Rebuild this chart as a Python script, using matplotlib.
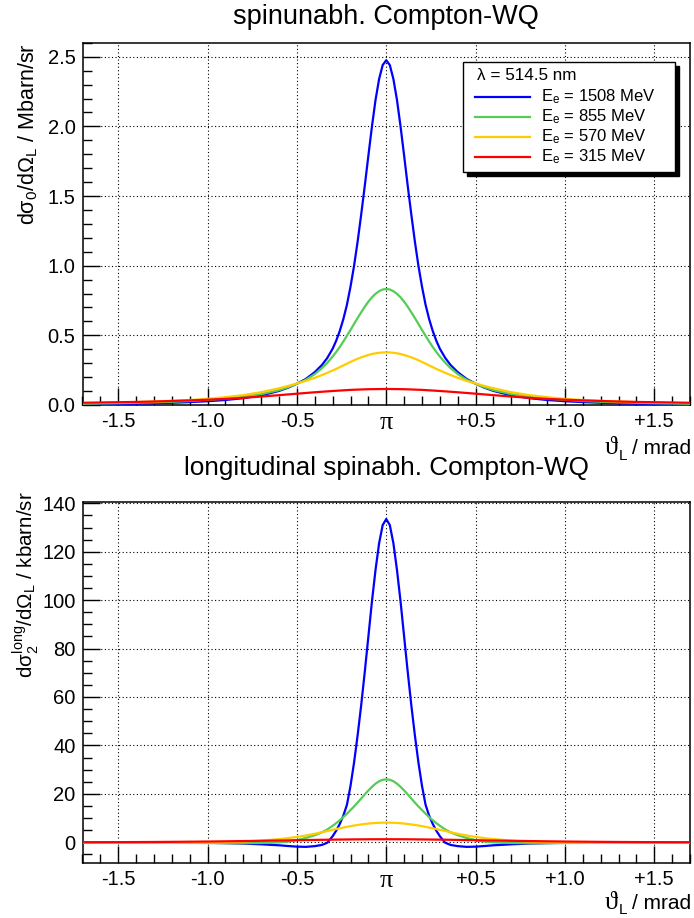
import numpy as np
import matplotlib
matplotlib.use('Agg')
import matplotlib.pyplot as plt
from matplotlib.ticker import FixedLocator, MultipleLocator
from matplotlib.patches import Rectangle
from matplotlib.lines import Line2D

plt.rcParams['font.family'] = ['Liberation Sans', 'DejaVu Sans']
plt.rcParams['mathtext.fontset'] = 'custom'
plt.rcParams['mathtext.rm'] = 'Liberation Sans'
plt.rcParams['mathtext.it'] = 'Liberation Sans'
plt.rcParams['mathtext.bf'] = 'Liberation Sans:bold'
plt.rcParams['mathtext.fallback'] = 'stix'

# ---------------- data (symmetric about pi) -------------
theta_half = [0.00, 0.02, 0.04, 0.06, 0.08, 0.10, 0.12, 0.14, 0.16, 0.18, 0.20,
              0.22, 0.24, 0.26, 0.28, 0.30, 0.33, 0.36, 0.40, 0.45, 0.50, 0.55,
              0.60, 0.70, 0.80, 0.90, 1.00, 1.10, 1.20, 1.30, 1.40, 1.50, 1.60, 1.70]
theta_half_red = [0.0, 0.1, 0.2, 0.3, 0.4, 0.5, 0.6, 0.7, 0.8, 0.9, 1.0,
                  1.1, 1.2, 1.3, 1.4, 1.5, 1.6, 1.7]

# spin-independent cross section, Mbarn/sr
top_1508 = [2.475, 2.44, 2.34, 2.19, 2.00, 1.79, 1.575, 1.37, 1.175, 1.00, 0.85,
            0.72, 0.617, 0.532, 0.462, 0.404, 0.338, 0.287, 0.236, 0.187, 0.153, 0.124,
            0.101, 0.069, 0.049, 0.036, 0.027, 0.021, 0.016, 0.0125, 0.0098, 0.0078, 0.0063, 0.0051]
top_855 = [0.833, 0.829, 0.817, 0.798, 0.773, 0.742, 0.706, 0.666, 0.625, 0.582, 0.539,
           0.497, 0.456, 0.417, 0.381, 0.348, 0.303, 0.265, 0.222, 0.181, 0.152, 0.127,
           0.106, 0.078, 0.059, 0.046, 0.037, 0.029, 0.023, 0.019, 0.016, 0.013, 0.011, 0.0095]
top_570 = [0.378, 0.377, 0.375, 0.371, 0.366, 0.359, 0.351, 0.342, 0.332, 0.321, 0.309,
           0.297, 0.284, 0.272, 0.259, 0.248, 0.231, 0.215, 0.195, 0.173, 0.155, 0.136,
           0.120, 0.092, 0.071, 0.056, 0.044, 0.036, 0.030, 0.025, 0.021, 0.018, 0.015, 0.013]
top_315 = [0.115, 0.1134, 0.1085, 0.1006, 0.0914, 0.0812, 0.0707, 0.0607, 0.0516, 0.0437,
           0.038, 0.033, 0.029, 0.025, 0.022, 0.020, 0.018, 0.016]

# longitudinal spin-dependent cross section, kbarn/sr
bot_1508 = [133.5, 131.0, 123.5, 112.5, 99.5, 85.0, 70.5, 56.8, 44.3, 33.0, 23.3,
            15.5, 11.0, 7.6, 4.8, 2.5, -0.2, -1.1, -1.6, -1.9, -1.8, -1.55,
            -1.25, -0.85, -0.55, -0.36, -0.24, -0.17, -0.12, -0.09, -0.07, -0.05, -0.04, -0.03]
bot_855 = [26.0, 25.8, 25.2, 24.2, 22.9, 21.4, 19.8, 18.1, 16.4, 14.8, 13.3,
           11.8, 10.4, 9.1, 7.9, 6.8, 5.3, 4.1, 2.9, 1.8, 0.9, 0.25,
           -0.05, -0.3, -0.4, -0.38, -0.33, -0.28, -0.23, -0.19, -0.16, -0.13, -0.11, -0.09]
bot_570 = [8.10, 8.09, 8.05, 7.97, 7.87, 7.73, 7.56, 7.37, 7.15, 6.92, 6.65,
           6.38, 6.08, 5.78, 5.46, 5.15, 4.65, 4.15, 3.50, 2.80, 2.20, 1.70,
           1.30, 0.70, 0.30, 0.05, -0.10, -0.17, -0.20, -0.20, -0.19, -0.17, -0.15, -0.13]
bot_315 = [1.25, 1.23, 1.17, 1.08, 0.97, 0.85, 0.72, 0.60, 0.49, 0.39, 0.30,
           0.23, 0.17, 0.12, 0.08, 0.05, 0.03, 0.01]

energies = ['1508', '855', '570', '315']
colors = ['#0000ff', '#55cc55', '#ffcc00', '#ff0000']
xtick_vals = [-1.5, -1.0, -0.5, 0.0, 0.5, 1.0, 1.5]
xtick_labels = ['-1.5', '-1.0', '-0.5', 'π', '+0.5', '+1.0', '+1.5']
top_yticks = [0.0, 0.5, 1.0, 1.5, 2.0, 2.5]
top_ylabels = ['0.0', '0.5', '1.0', '1.5', '2.0', '2.5']
bot_yticks = [0, 20, 40, 60, 80, 100, 120, 140]


def mirror(t, v):
    t = np.asarray(t, float)
    v = np.asarray(v, float)
    return np.concatenate([-t[::-1], t[1:]]), np.concatenate([v[::-1], v[1:]])


W, H = 694, 918
fig = plt.figure(figsize=(W / 100, H / 100), dpi=100)


def fx(px):
    return px / W


def fy(py):
    return 1 - py / H


ax_left, ax_right = 82.5, 690.0
ax1 = fig.add_axes([fx(ax_left), fy(405.0), (ax_right - ax_left) / W, (405.0 - 42.8) / H])
ax2 = fig.add_axes([fx(ax_left), fy(862.6), (ax_right - ax_left) / W, (862.6 - 502.1) / H])

series_top = [(theta_half, top_1508), (theta_half, top_855), (theta_half, top_570),
              (theta_half_red, top_315)]
series_bot = [(theta_half, bot_1508), (theta_half, bot_855), (theta_half, bot_570),
              (theta_half_red, bot_315)]

for ax, series in ((ax1, series_top), (ax2, series_bot)):
    for (t, v), c in zip(series, colors):
        xx, yy = mirror(t, v)
        ax.plot(xx, yy, color=c, lw=1.6, solid_joinstyle='round', zorder=3)
    ax.set_xlim(-1.7, 1.7)
    ax.xaxis.set_major_locator(FixedLocator(xtick_vals))
    ax.xaxis.set_minor_locator(MultipleLocator(0.1))
    ax.set_xticklabels(xtick_labels)
    ax.tick_params(which='both', direction='in', top=False, right=False,
                   labelsize=14.5, width=1.0, color='black')
    ax.tick_params(which='major', length=12.5, pad=5)
    ax.tick_params(which='minor', length=6.5)
    for lab in ax.get_xticklabels():
        if lab.get_text() == 'π':
            lab.set_fontfamily(['Liberation Serif', 'DejaVu Serif'])
            lab.set_fontsize(19)
    ax.grid(True, which='major', color='black', linestyle=(0, (1, 2.2)), linewidth=0.8)
    ax.set_axisbelow(True)
    for sp in ax.spines.values():
        sp.set_linewidth(1.1)
        sp.set_color('black')

ax1.set_ylim(0, 2.6)
ax1.yaxis.set_major_locator(FixedLocator(top_yticks))
ax1.set_yticklabels(top_ylabels)
ax1.yaxis.set_minor_locator(MultipleLocator(0.1))

ax2.set_ylim(-8.4, 140.5)
ax2.yaxis.set_major_locator(FixedLocator(bot_yticks))
ax2.yaxis.set_minor_locator(MultipleLocator(5))

# titles
xc = fx((ax_left + ax_right) / 2)
fig.text(xc, fy(17), 'spinunabh. Compton-WQ', ha='center', va='center', fontsize=19.5)
fig.text(xc, fy(468), 'longitudinal spinabh. Compton-WQ', ha='center', va='center', fontsize=18.8)

# x-axis titles: theta symbol, subscript L, unit (chained right to left)
renderer = fig.canvas.get_renderer()
for base, sub in ((454, 6), (909, 5)):
    t_unit = fig.text(fx(691), fy(base), '/ mrad', ha='right', va='baseline', fontsize=15)
    x0 = t_unit.get_window_extent(renderer).x0
    t_L = fig.text((x0 - 5) / W, fy(base + sub), 'L', ha='right', va='baseline', fontsize=11)
    x1 = t_L.get_window_extent(renderer).x0
    fig.text((x1 - 0.5) / W, fy(base), 'ϑ', ha='right', va='baseline', fontsize=19,
             family=['Liberation Serif', 'DejaVu Serif'])

# y-axis titles
fig.text(fx(28), fy(43), r'd$\sigma_{0}$/d$\Omega_{\mathrm{L}}$ / Mbarn/sr',
         rotation=90, ha='center', va='top', fontsize=15.5)
fig.text(fx(26), fy(491), r'd$\sigma_{2}^{\mathrm{long}}$/d$\Omega_{\mathrm{L}}$ / kbarn/sr',
         rotation=90, ha='center', va='top', fontsize=14.8)

# legend box (drawn manually in figure pixels)
bx0, by0, bx1, by1 = 463, 62, 675, 172
fig.add_artist(Rectangle((fx(bx0 + 4), fy(by1 + 4)), (bx1 - bx0) / W, (by1 - by0) / H,
                         transform=fig.transFigure, facecolor='black', edgecolor='black', zorder=10))
fig.add_artist(Rectangle((fx(bx0), fy(by1)), (bx1 - bx0) / W, (by1 - by0) / H,
                         transform=fig.transFigure, facecolor='white', edgecolor='black',
                         linewidth=1.0, zorder=11))
fig.text(fx(477), fy(76), 'λ = 514.5 nm', ha='left', va='center', fontsize=12.3, zorder=12)
row_y = [96.7, 116.7, 137.0, 157.0]
for e, c, ry in zip(energies, colors, row_y):
    fig.add_artist(Line2D([fx(475), fx(530)], [fy(ry), fy(ry)], transform=fig.transFigure,
                          color=c, lw=1.6, zorder=12))
    fig.text(fx(541), fy(ry), r'E$_{\mathrm{e}}$ = ' + e + ' MeV', ha='left', va='center',
             fontsize=12, zorder=12)

fig.savefig('out.png', dpi=100)
